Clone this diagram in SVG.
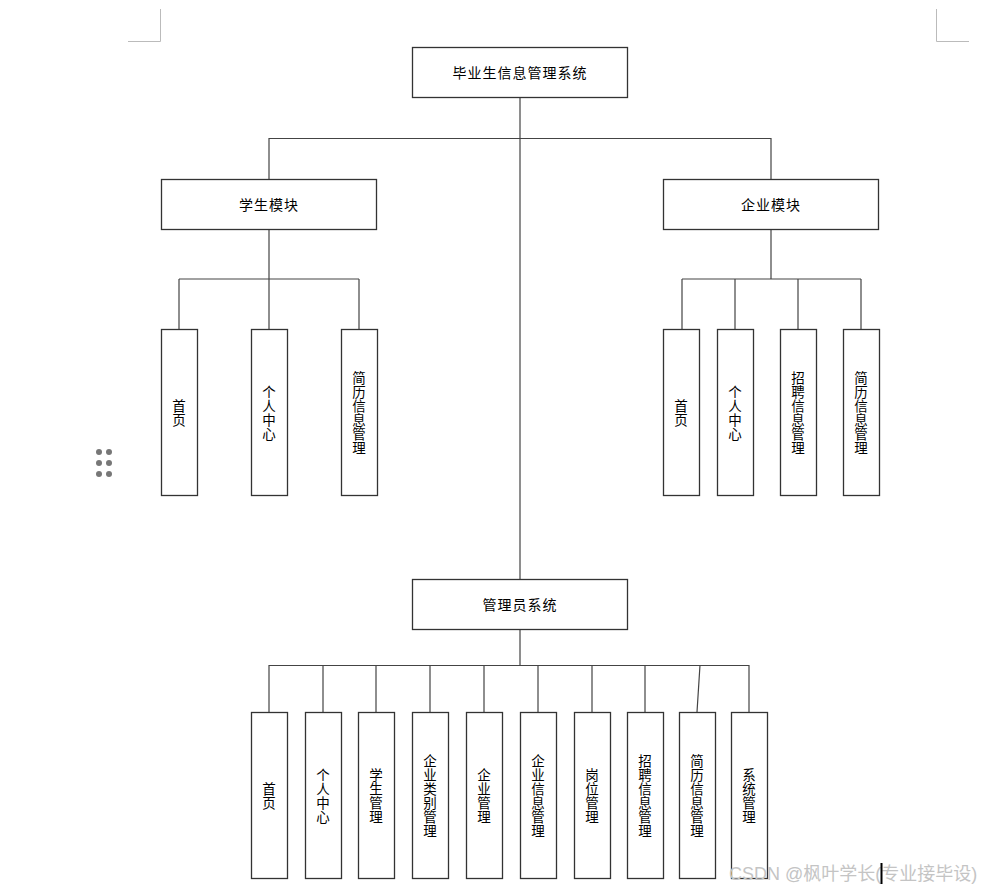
<svg xmlns="http://www.w3.org/2000/svg" width="985" height="891" viewBox="0 0 985 891">
<style>
.box{fill:#fff;stroke:#333;stroke-width:1.3}
.ln{stroke:#444;stroke-width:1.2;fill:none}
.t{font-family:"Noto Sans CJK SC","Liberation Sans",sans-serif;font-size:14px;fill:#000;text-anchor:middle;dominant-baseline:central}
.v{writing-mode:vertical-rl;font-size:13.5px;letter-spacing:0.5px}
.h{letter-spacing:1px}
.mark{stroke:#bbb;stroke-width:1;fill:none}
</style>
<rect width="985" height="891" fill="#fff"/>
<g id="page-marks">
<path class="mark" d="M160.5 9V41.5H128M936.5 9V41.5H969"/>
<g fill="#777"><circle cx="99" cy="452" r="3"/><circle cx="109" cy="452" r="3"/><circle cx="99" cy="463" r="3"/><circle cx="109" cy="463" r="3"/><circle cx="99" cy="474" r="3"/><circle cx="109" cy="474" r="3"/></g>
</g>
<g id="connectors">
<path class="ln" d="M520 97V579M269 138.5H771M269 138V179M771 138V179"/>
<path class="ln" d="M269 229V279M179 279H359M179 279V329M269 279V329M359 279V329"/>
<path class="ln" d="M771 229V279M682 279H861M682 279V329M735 279V329M798 279V329M861 279V329"/>
<path class="ln" d="M520 629V665.5M269 665.5H749M269 665V712M323 665V712M376 665V712M430 665V712M484 665V712M538 665V712M592 665V712M645 665V712M700 665L697 712M749 665V712"/>
</g>
<g id="n-root"><rect class="box" x="412.5" y="47.5" width="215" height="50"/><text class="t h" x="520" y="72">毕业生信息管理系统</text></g>
<g id="n-student"><rect class="box" x="161.5" y="179.5" width="215" height="50"/><text class="t h" x="269" y="204">学生模块</text></g>
<g id="n-company"><rect class="box" x="663.5" y="179.5" width="215" height="50"/><text class="t h" x="771" y="204">企业模块</text></g>
<g id="n-admin"><rect class="box" x="412.5" y="579.5" width="215" height="50"/><text class="t h" x="520" y="604">管理员系统</text></g>

<g id="s1"><rect class="box" x="161.5" y="329.5" width="36" height="166"/><text class="t v" x="179" y="413">首页</text></g>
<g id="s2"><rect class="box" x="251.5" y="329.5" width="36" height="166"/><text class="t v" x="269" y="413">个人中心</text></g>
<g id="s3"><rect class="box" x="341.5" y="329.5" width="36" height="166"/><text class="t v" x="359" y="413">简历信息管理</text></g>

<g id="c1"><rect class="box" x="663.5" y="329.5" width="36" height="166"/><text class="t v" x="681" y="413">首页</text></g>
<g id="c2"><rect class="box" x="717.5" y="329.5" width="36" height="166"/><text class="t v" x="735" y="413">个人中心</text></g>
<g id="c3"><rect class="box" x="780.5" y="329.5" width="36" height="166"/><text class="t v" x="798" y="413">招聘信息管理</text></g>
<g id="c4"><rect class="box" x="843.5" y="329.5" width="36" height="166"/><text class="t v" x="861" y="413">简历信息管理</text></g>

<g id="a1"><rect class="box" x="251.5" y="712.5" width="36" height="166"/><text class="t v" x="269" y="796">首页</text></g>
<g id="a2"><rect class="box" x="305.5" y="712.5" width="36" height="166"/><text class="t v" x="323" y="796">个人中心</text></g>
<g id="a3"><rect class="box" x="358.5" y="712.5" width="36" height="166"/><text class="t v" x="376" y="796">学生管理</text></g>
<g id="a4"><rect class="box" x="412.5" y="712.5" width="36" height="166"/><text class="t v" x="430" y="796">企业类别管理</text></g>
<g id="a5"><rect class="box" x="466.5" y="712.5" width="36" height="166"/><text class="t v" x="484" y="796">企业管理</text></g>
<g id="a6"><rect class="box" x="520.5" y="712.5" width="36" height="166"/><text class="t v" x="538" y="796">企业信息管理</text></g>
<g id="a7"><rect class="box" x="574.5" y="712.5" width="36" height="166"/><text class="t v" x="592" y="796">岗位管理</text></g>
<g id="a8"><rect class="box" x="627.5" y="712.5" width="36" height="166"/><text class="t v" x="645" y="796">招聘信息管理</text></g>
<g id="a9"><rect class="box" x="679.5" y="712.5" width="36" height="166"/><text class="t v" x="697" y="796">简历信息管理</text></g>
<g id="a10"><rect class="box" x="731.5" y="712.5" width="36" height="166"/><text class="t v" x="749" y="796">系统管理</text></g>

<g id="watermark">
<text x="729" y="880" font-family="'Liberation Sans','Noto Sans CJK SC',sans-serif" font-size="18" fill="#c4c4c4">CSDN @枫叶学长(专业接毕设)</text>
<rect x="880.5" y="863" width="2" height="21" fill="#000"/>
</g>
</svg>
